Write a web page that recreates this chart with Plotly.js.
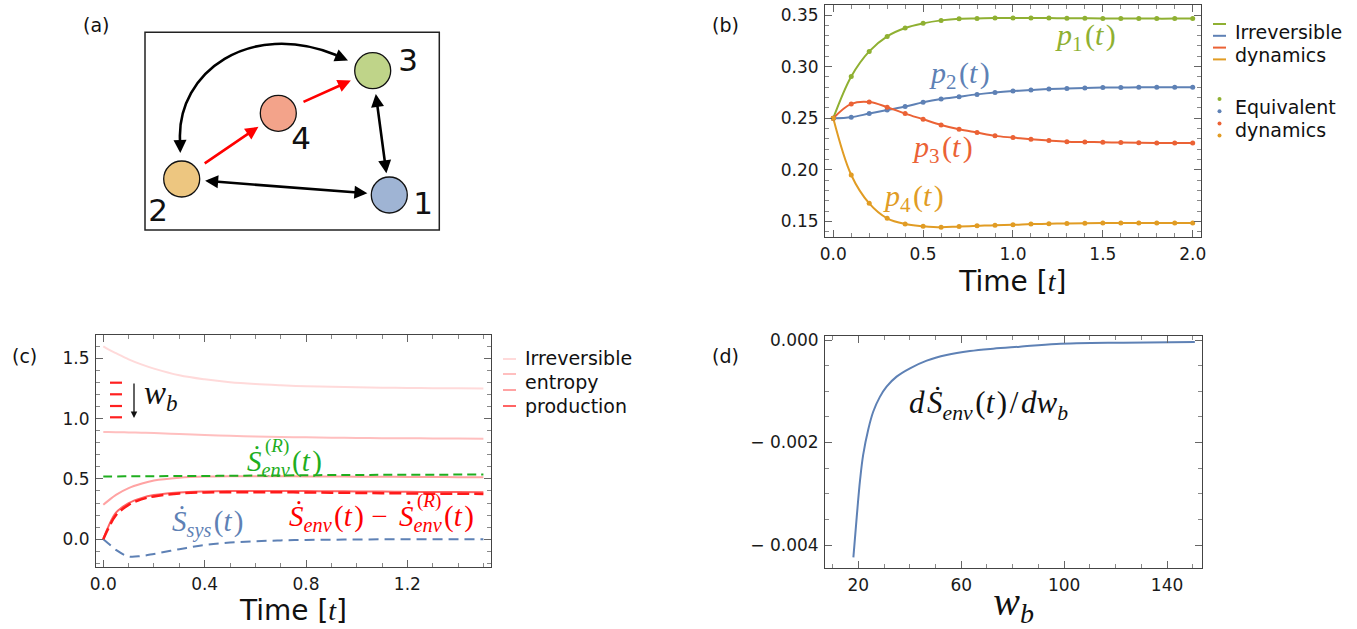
<!DOCTYPE html>
<html><head><meta charset="utf-8">
<script src="https://cdn.plot.ly/plotly-3.0.1.min.js"></script>
<style>html,body{margin:0;padding:0;background:#fff}#plot{width:1357px;height:629px}</style>
</head><body><div id="plot"></div>
<script>
// ---------------- data ----------------
// panel (b)
const tB = [0,0.1,0.2,0.3,0.4,0.5,0.6,0.7,0.8,0.9,1.0,1.1,1.2,1.3,1.4,1.5,1.6,1.7,1.8,1.9,2.0];
const p1 = [0.2500,0.2904,0.3147,0.3293,0.3374,0.3419,0.3448,0.3464,0.3467,0.3470,0.3471,0.3471,0.3470,0.3469,0.3468,0.3467,0.3466,0.3466,0.3465,0.3465,0.3465];
const p2 = [0.2500,0.2510,0.2545,0.2580,0.2613,0.2655,0.2687,0.2709,0.2731,0.2749,0.2763,0.2774,0.2784,0.2788,0.2794,0.2797,0.2798,0.2799,0.2799,0.2800,0.2800];
const p3 = [0.2500,0.2639,0.2657,0.2607,0.2545,0.2490,0.2435,0.2393,0.2361,0.2329,0.2312,0.2296,0.2283,0.2273,0.2270,0.2267,0.2264,0.2262,0.2261,0.2261,0.2261];
const p4 = [0.2500,0.1950,0.1675,0.1530,0.1475,0.1454,0.1443,0.1451,0.1457,0.1464,0.1467,0.1474,0.1477,0.1481,0.1483,0.1484,0.1484,0.1484,0.1484,0.1484,0.1484];
// panel (c)
const tC = [0,0.02,0.05,0.1,0.15,0.2,0.3,0.4,0.5,0.6,0.7,0.8,0.9,1.0,1.1,1.2,1.3,1.4,1.5];
const irr1 = [1.600,1.575,1.543,1.492,1.450,1.415,1.360,1.326,1.302,1.287,1.277,1.269,1.264,1.260,1.257,1.255,1.253,1.252,1.251];
const irr2 = [0.889,0.889,0.888,0.886,0.884,0.881,0.873,0.865,0.858,0.852,0.848,0.845,0.842,0.840,0.838,0.837,0.836,0.835,0.834];
const irr3 = [0.285,0.320,0.368,0.424,0.460,0.487,0.510,0.520,0.523,0.523,0.522,0.521,0.520,0.519,0.518,0.517,0.516,0.515,0.515];
const irr4 = [0.000,0.105,0.220,0.299,0.341,0.366,0.388,0.396,0.399,0.400,0.400,0.399,0.398,0.396,0.395,0.393,0.392,0.391,0.390];
const envDiff = [0.000,0.090,0.200,0.285,0.330,0.355,0.380,0.388,0.390,0.390,0.389,0.388,0.386,0.384,0.382,0.380,0.378,0.377,0.376];
const envRev = [0.521,0.521,0.521,0.522,0.522,0.523,0.524,0.525,0.526,0.528,0.529,0.531,0.532,0.533,0.534,0.535,0.535,0.536,0.536];
const sSys = [0.000,-0.035,-0.089,-0.143,-0.139,-0.122,-0.083,-0.047,-0.028,-0.017,-0.010,-0.006,-0.004,-0.002,-0.001,-0.0005,0,0,0];
// panel (d)
const wb = [18.1,19.4,20.7,21.9,23.9,25.8,28.4,31.0,34.9,40.1,46.6,54.3,63.4,72.4,82.8,97.0,122.9,150.8];
const dSenv = [-0.00424,-0.00345,-0.00273,-0.00224,-0.00174,-0.00140,-0.00111,-0.00091,-0.000715,-0.000553,-0.000403,-0.000293,-0.000215,-0.000169,-0.000130,-0.000078,-0.000052,-0.000039];
const dTickVals = [-0.004,-0.002,0];
const dTickText = ['\u2212 0.004','\u2212 0.002','0.000'];
// panel (a): network diagram
const nodeIds = ['1','2','3','4'];
const nodeColors = ['#9fb4d4','#edc680','#bfd489','#f3a38a'];
const nodeLayoutX = [389.3,181.7,372.7,278.3];
const nodeLayoutY = [195,179,70.7,113.3];
const labelLayoutX = [423,158,408,301];
const labelLayoutY = [206,213,63,141];
const edgeFrom = ['2','3','2','4'];
const edgeTo   = ['1','1','4','3'];
const edgeBoth = [true,true,false,false];
const edgeColor= ['black','black','#ff0000','#ff0000'];

// ---------------- helpers ----------------
const W = 1357, H = 629;
const px = x => x / W;
const py = y => 1 - y / H;
const SERIF = 'Liberation Serif, Times New Roman, serif';
const SANS = 'DejaVu Sans, sans-serif';
const cB = ['#8fb032','#5e81b5','#eb6235','#e19c24'];
const cIrr = ['#ffdada','#ffbfbf','#ffa3a3','#ff6464'];
const HS = '\u200A'; // hair space

function frame(extra) {
  return Object.assign({
    showline: true, mirror: 'ticks', linecolor: '#444', linewidth: 1,
    ticks: 'inside', ticklen: 7, tickwidth: 1, tickcolor: '#666',
    showgrid: false, zeroline: false, fixedrange: true, ticklabelstandoff: 2,
    tickfont: {family: SANS, size: 17, color: '#1a1a1a'}
  }, extra);
}

const traces = [];
// (b)
[p1,p2,p3,p4].forEach((p,i) => {
  traces.push({x: tB, y: p, xaxis: 'x', yaxis: 'y', mode: 'lines', line: {color: cB[i], width: 2, shape: 'spline'}, hoverinfo: 'skip'});
});
[p1,p2,p3,p4].forEach((p,i) => {
  traces.push({x: tB, y: p, xaxis: 'x', yaxis: 'y', mode: 'markers', marker: {color: cB[i], size: 5}, hoverinfo: 'skip'});
});
// (c)
[irr1,irr2,irr3,irr4].forEach((v,i) => {
  traces.push({x: tC, y: v, xaxis: 'x2', yaxis: 'y2', mode: 'lines', line: {color: cIrr[i], width: 2, shape: 'spline'}, hoverinfo: 'skip'});
});
traces.push({x: tC, y: envRev, xaxis: 'x2', yaxis: 'y2', mode: 'lines', line: {color: '#1fae1f', width: 2, dash: '9px,5px', shape: 'spline'}, hoverinfo: 'skip'});
traces.push({x: tC, y: sSys, xaxis: 'x2', yaxis: 'y2', mode: 'lines', line: {color: '#5e81b5', width: 2, dash: '10px,6px', shape: 'spline'}, hoverinfo: 'skip'});
traces.push({x: tC, y: envDiff, xaxis: 'x2', yaxis: 'y2', mode: 'lines', line: {color: '#ff1a1a', width: 2.5, dash: '12px,5px', shape: 'spline'}, hoverinfo: 'skip'});
// (d)
traces.push({x: wb, y: dSenv, xaxis: 'x3', yaxis: 'y3', mode: 'lines', line: {color: '#5e81b5', width: 2, shape: 'spline', smoothing: 1}, hoverinfo: 'skip'});
// (a) nodes
traces.push({x: nodeLayoutX, y: nodeLayoutY, xaxis: 'x4', yaxis: 'y4', mode: 'markers', marker: {size: 36, color: nodeColors, line: {color: '#111', width: 1.3}}, hoverinfo: 'skip'});
traces.push({x: labelLayoutX, y: labelLayoutY, xaxis: 'x4', yaxis: 'y4', mode: 'text', text: nodeIds, textfont: {family: SANS, size: 31, color: '#111'}, hoverinfo: 'skip'});

// ---------------- annotations ----------------
const ann = [];
function txt(x, y, text, opts) {
  ann.push(Object.assign({xref: 'paper', yref: 'paper', x: px(x), y: py(y), text: text, showarrow: false,
    xanchor: 'left', yanchor: 'middle', font: {family: SANS, size: 19, color: '#111'}}, opts || {}));
}
const mf = (s, c) => ({family: SERIF, size: s, color: c});
const pLabel = n => '<i>p</i><sub>' + n + '</sub>' + HS + '(<i>t</i>' + HS + ')';
const sDot = sub => '<i>\u1E60</i><sub><i>' + sub + '</i></sub>' + HS + '(<i>t</i>' + HS + ')';
// panel letters
txt(96, 25, '(a)', {xanchor: 'center'});
txt(725, 25, '(b)', {xanchor: 'center'});
txt(24, 356, '(c)', {xanchor: 'center'});
txt(725, 356, '(d)', {xanchor: 'center'});
// (b) labels
txt(1053, 37, pLabel(1), {font: mf(30, cB[0])});
txt(927, 75, pLabel(2), {font: mf(30, cB[1])});
txt(910, 149, pLabel(3), {font: mf(30, cB[2])});
txt(881, 198, pLabel(4), {font: mf(30, cB[3])});
// (b) legend
txt(1233, 32, 'Irreversible');
txt(1233, 55, 'dynamics');
txt(1233, 107, 'Equivalent');
txt(1233, 130, 'dynamics');
// (c) labels
txt(245, 463, sDot('env'), {font: mf(29, '#1fae1f')});
txt(263, 446, '(<i>R</i>)', {font: mf(19, '#1fae1f')});
txt(170, 523, sDot('sys'), {font: mf(29, '#5e81b5')});
txt(287, 518, sDot('env') + ' \u2212', {font: mf(29, '#ff0000')});
txt(397, 518, sDot('env'), {font: mf(29, '#ff0000')});
txt(415, 501, '(<i>R</i>)', {font: mf(19, '#ff0000')});
txt(142, 395, '<i>w</i><sub><i>b</i></sub>', {font: mf(33, '#111')});
ann.push({xref: 'paper', yref: 'paper', x: px(134), y: py(418), ax: px(134), ay: py(382), axref: 'paper', ayref: 'paper',
  showarrow: true, arrowhead: 2, arrowsize: 1, arrowwidth: 1.3, arrowcolor: '#111', text: ''});
// (c) legend
txt(523, 358, 'Irreversible');
txt(523, 382, 'entropy');
txt(523, 406, 'production');
// (d) label
txt(907, 405, '<i>d</i>' + HS + '<i>\u1E60</i><sub><i>env</i></sub>' + HS + '(<i>t</i>' + HS + ')' + HS + '/' + HS + '<i>dw</i><sub><i>b</i></sub>', {font: mf(31, '#111')});

// (a) arrows between nodes
const R = 18, GAP = 4;
const idx = id => nodeIds.indexOf(id);
edgeFrom.forEach((f, k) => {
  const a = idx(f), b = idx(edgeTo[k]);
  const red = edgeColor[k] !== 'black';
  ann.push({xref: 'x4', yref: 'y4', axref: 'x4', ayref: 'y4',
    x: nodeLayoutX[b], y: nodeLayoutY[b], ax: nodeLayoutX[a], ay: nodeLayoutY[a],
    showarrow: true, text: '', arrowhead: 2, startarrowhead: 2, arrowsize: 1, startarrowsize: 1,
    arrowwidth: 2.6, arrowcolor: edgeColor[k], arrowside: edgeBoth[k] ? 'end+start' : 'end',
    standoff: R + (red ? 6 : GAP), startstandoff: R + (red ? 8 : GAP)});
});
// curved 3<->2 arrow heads
ann.push({xref: 'x4', yref: 'y4', axref: 'x4', ayref: 'y4', x: 180.3, y: 153, ax: 180, ay: 139,
  showarrow: true, text: '', arrowhead: 2, arrowsize: 1, arrowwidth: 2.6, arrowcolor: 'black'});
ann.push({xref: 'x4', yref: 'y4', axref: 'x4', ayref: 'y4', x: 348, y: 60.5, ax: 334, ay: 54.5,
  showarrow: true, text: '', arrowhead: 2, arrowsize: 1, arrowwidth: 2.6, arrowcolor: 'black'});

// ---------------- shapes ----------------
const shapes = [];
shapes.push({type: 'rect', xref: 'x4', yref: 'y4', x0: 145, x1: 439.3, y0: 32.3, y1: 230, line: {color: '#222', width: 1.5}});
shapes.push({type: 'path', xref: 'x4', yref: 'y4', path: 'M 180,140 C 177,72 250,20 336,55', line: {color: 'black', width: 2.6}});
cB.forEach((c, i) => {
  shapes.push({type: 'line', xref: 'paper', yref: 'paper', x0: px(1213), x1: px(1226), y0: py(24 + i * 11.8), y1: py(24 + i * 11.8), line: {color: c, width: 2}});
  shapes.push({type: 'circle', xref: 'paper', yref: 'paper', x0: px(1217.5), x1: px(1221.5), y0: py(97 + i * 12.2), y1: py(101 + i * 12.2), fillcolor: c, line: {width: 0}});
});
cIrr.forEach((c, i) => {
  const y = [359, 374, 390, 406][i];
  shapes.push({type: 'line', xref: 'paper', yref: 'paper', x0: px(503), x1: px(516), y0: py(y), y1: py(y), line: {color: c, width: 2}});
});
[382.7, 394.3, 406, 417.3].forEach(y => {
  shapes.push({type: 'line', xref: 'paper', yref: 'paper', x0: px(110), x1: px(122), y0: py(y), y1: py(y), line: {color: '#ff2020', width: 2.2}});
});

const tf = {family: SANS, size: 28, color: '#111'};
const timeTitle = 'Time [<span style="font-family:Liberation Serif"><i>t</i></span>]';
const layout = {
  width: W, height: H, margin: {l: 0, r: 0, t: 0, b: 0},
  paper_bgcolor: '#fff', plot_bgcolor: 'rgba(0,0,0,0)', showlegend: false,
  font: {family: SANS, color: '#111'},
  xaxis: frame({anchor: 'y', domain: [px(825), px(1200.7)], range: [-0.046, 2.0445], tick0: 0, dtick: 0.5, tickformat: '.1f',
    minor: {ticks: 'inside', ticklen: 4, dtick: 0.1, tick0: 0, tickcolor: '#888'},
    title: {text: timeTitle, font: tf, standoff: 8}}),
  yaxis: frame({anchor: 'x', domain: [py(236.5), py(5)], range: [0.1354, 0.3597], tick0: 0.15, dtick: 0.05, tickformat: '.2f',
    minor: {ticks: 'inside', ticklen: 4, dtick: 0.01, tick0: 0, tickcolor: '#888'}}),
  xaxis2: frame({anchor: 'y2', domain: [px(96), px(491)], range: [-0.0288, 1.530], tick0: 0, dtick: 0.4, tickformat: '.1f',
    minor: {ticks: 'inside', ticklen: 4, dtick: 0.1, tick0: 0, tickcolor: '#888'},
    title: {text: timeTitle, font: tf, standoff: 6}}),
  yaxis2: frame({anchor: 'x2', domain: [py(566.7), py(335)], range: [-0.228, 1.694], tick0: 0, dtick: 0.5, tickformat: '.1f',
    minor: {ticks: 'inside', ticklen: 4, dtick: 0.1, tick0: 0, tickcolor: '#888'}}),
  xaxis3: frame({anchor: 'y3', domain: [px(825), px(1202.3)], range: [7.07, 153.7], tickvals: [20, 60, 100, 140],
    minor: {ticks: 'inside', ticklen: 4, dtick: 10, tick0: 0, tickcolor: '#888'},
    title: {text: '<i>w</i><sub><i>b</i></sub>', font: {family: SERIF, size: 40, color: '#111'}, standoff: 10}}),
  yaxis3: frame({anchor: 'x3', domain: [py(567.7), py(335.7)], range: [-0.004443, 0.0000839], tickvals: dTickVals, ticktext: dTickText,
    minor: {ticks: 'inside', ticklen: 4, dtick: 0.0005, tick0: 0, tickcolor: '#888'}}),
  xaxis4: {domain: [0, px(460)], range: [0, 460], visible: false, fixedrange: true, anchor: 'y4'},
  yaxis4: {domain: [py(240), 1], range: [240, 0], visible: false, fixedrange: true, anchor: 'x4'},
  annotations: ann, shapes: shapes
};
Plotly.newPlot('plot', traces, layout, {staticPlot: true, displayModeBar: false});
</script></body></html>
